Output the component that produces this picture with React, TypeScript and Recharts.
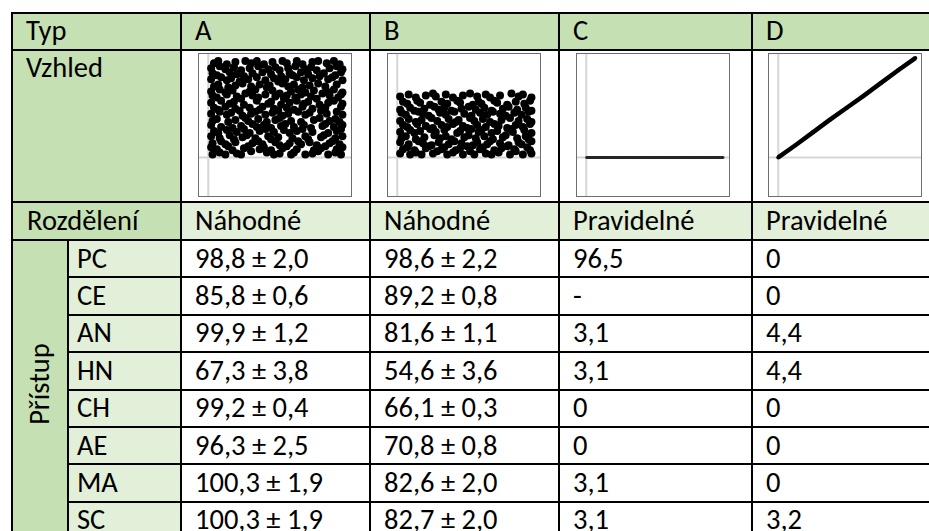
import React from 'react';
import { ScatterChart, Scatter, XAxis, YAxis, ReferenceLine } from 'recharts';

// Table text
const headerLabels = ['Typ', 'A', 'B', 'C', 'D'];
const appearanceLabel = 'Vzhled';
const distributionLabel = 'Rozdělení';
const distributions = ['Náhodné', 'Náhodné', 'Pravidelné', 'Pravidelné'];
const groupLabel = 'Přístup';
const approaches = ['PC', 'CE', 'AN', 'HN', 'CH', 'AE', 'MA', 'SC'];
const resultsA = ['98,8 ± 2,0', '85,8 ± 0,6', '99,9 ± 1,2', '67,3 ± 3,8', '99,2 ± 0,4', '96,3 ± 2,5', '100,3 ± 1,9', '100,3 ± 1,9'];
const resultsB = ['98,6 ± 2,2', '89,2 ± 0,8', '81,6 ± 1,1', '54,6 ± 3,6', '66,1 ± 0,3', '70,8 ± 0,8', '82,6 ± 2,0', '82,7 ± 2,0'];
const resultsC = ['96,5', '-', '3,1', '3,1', '0', '0', '3,1', '3,1'];
const resultsD = ['0', '0', '4,4', '4,4', '0', '0', '0', '3,2'];

// Scatter A: random points over the whole square
const pointsA: number[][] = [
  [3, 3], [8, 5], [12, 3], [20, 4], [23, 3], [30, 6], [41, 5], [46, 3], [50, 4], [58, 3], [60, 5], [68, 3], [73, 4], [77, 6], [84, 3], [89, 5], [93, 3],
  [2, 10], [6, 8], [14, 11], [17, 7], [25, 9], [28, 11], [36, 8], [39, 10], [44, 7], [52, 9], [55, 11], [62, 8], [74, 7], [79, 9], [82, 11], [90, 8], [94, 10],
  [3, 14], [9, 16], [12, 13], [19, 15], [31, 14], [35, 16], [38, 13], [47, 15], [50, 12], [57, 14], [63, 16], [65, 13], [71, 15], [76, 12], [85, 14], [87, 16], [92, 13],
  [2, 21], [8, 19], [15, 22], [18, 18], [24, 20], [27, 22], [33, 19], [42, 21], [44, 18], [49, 20], [59, 19], [68, 21], [70, 18], [79, 20], [81, 22], [89, 19], [94, 21],
  [4, 26], [7, 24], [13, 27], [20, 25], [25, 28], [29, 24], [36, 26], [40, 28], [46, 25], [53, 27], [57, 24], [62, 26], [66, 28], [73, 25], [84, 24], [90, 26], [93, 28],
  [2, 32], [9, 30], [17, 29], [23, 31], [31, 33], [34, 30], [39, 32], [44, 29], [51, 31], [54, 33], [60, 30], [67, 32], [72, 29], [80, 31], [82, 33], [88, 30], [94, 32],
  [3, 36], [6, 38], [14, 35], [19, 37], [26, 39], [28, 36], [35, 38], [41, 35], [47, 37], [50, 39], [58, 36], [65, 35], [74, 37], [78, 39], [85, 36], [89, 38], [92, 35],
  [2, 43], [8, 45], [13, 42], [16, 44], [24, 41], [30, 43], [33, 45], [40, 42], [45, 44], [52, 41], [56, 43], [63, 45], [68, 42], [71, 44], [83, 43], [90, 45], [94, 42],
  [4, 49], [7, 47], [12, 50], [19, 48], [22, 46], [29, 49], [36, 47], [38, 50], [46, 48], [49, 46], [55, 49], [60, 47], [66, 50], [73, 48], [79, 46], [82, 49], [93, 50],
  [2, 54], [9, 56], [15, 53], [18, 55], [25, 52], [34, 56], [42, 53], [44, 55], [51, 52], [57, 54], [62, 56], [67, 53], [70, 55], [78, 52], [84, 54], [88, 56], [94, 53],
  [3, 61], [6, 59], [13, 62], [20, 60], [23, 58], [31, 61], [35, 59], [40, 62], [47, 60], [53, 58], [55, 61], [61, 59], [65, 62], [72, 60], [76, 58], [85, 61], [91, 59], [93, 62],
  [2, 65], [8, 67], [12, 64], [17, 66], [26, 63], [29, 65], [33, 67], [45, 66], [50, 63], [58, 65], [63, 67], [68, 64], [74, 66], [80, 63], [83, 65], [88, 67], [94, 64],
  [4, 70], [7, 72], [14, 69], [19, 71], [24, 73], [30, 70], [36, 72], [41, 69], [43, 71], [52, 73], [56, 70], [60, 72], [66, 69], [71, 71], [77, 73], [82, 70], [90, 72],
  [2, 77], [9, 79], [13, 76], [16, 78], [22, 75], [28, 77], [34, 79], [40, 76], [46, 78], [49, 75], [54, 77], [62, 79], [67, 76], [73, 78], [84, 77], [87, 79], [94, 76],
  [3, 83], [6, 81], [15, 84], [20, 82], [25, 80], [31, 83], [38, 84], [44, 82], [51, 80], [57, 83], [59, 81], [65, 84], [70, 82], [78, 80], [81, 83], [89, 81], [93, 84],
  [2, 88], [8, 90], [12, 87], [18, 89], [23, 86], [29, 88], [35, 90], [42, 87], [47, 89], [50, 86], [56, 88], [61, 90], [68, 87], [72, 89], [76, 86], [85, 88], [90, 90], [94, 87],
  [4, 93], [7, 95], [13, 92], [19, 94], [26, 95], [30, 93], [34, 95], [39, 92], [45, 94], [52, 95], [55, 93], [62, 95], [66, 92], [73, 94], [77, 95], [83, 93], [88, 95], [92, 92],
];

// Scatter B: random points over a lower band
const pointsB: number[][] = [
  [2, 4], [9, 3], [13, 5], [17, 3], [25, 4], [28, 6], [35, 3], [39, 5], [46, 3], [51, 6], [54, 3], [62, 4], [66, 3], [71, 5], [79, 3], [83, 6], [88, 3], [94, 4],
  [4, 8], [7, 10], [12, 7], [20, 9], [22, 11], [31, 8], [33, 10], [41, 7], [44, 9], [49, 11], [58, 8], [60, 10], [68, 7], [73, 9], [77, 11], [82, 8], [91, 10], [93, 7],
  [2, 15], [8, 13], [15, 16], [18, 14], [24, 12], [29, 15], [36, 13], [40, 16], [45, 14], [53, 12], [56, 15], [63, 13], [65, 16], [72, 14], [78, 12], [85, 15], [87, 13], [94, 16],
  [3, 19], [6, 21], [13, 18], [19, 20], [26, 22], [30, 19], [34, 21], [38, 18], [47, 20], [50, 22], [55, 19], [61, 21], [67, 18], [74, 20], [76, 22], [84, 19], [90, 21], [92, 18],
  [2, 25], [9, 27], [12, 24], [16, 26], [23, 28], [27, 25], [33, 27], [42, 24], [44, 26], [52, 28], [57, 25], [59, 27], [66, 24], [70, 26], [80, 28], [81, 25], [89, 27], [94, 24],
  [4, 32], [7, 30], [14, 33], [20, 31], [25, 29], [31, 32], [35, 30], [39, 33], [46, 31], [49, 29], [56, 32], [62, 30], [68, 33], [71, 31], [77, 29], [83, 32], [88, 30], [93, 33],
  [2, 36], [8, 38], [13, 35], [17, 37], [24, 39], [28, 36], [36, 38], [41, 35], [43, 37], [51, 39], [54, 36], [60, 38], [65, 35], [73, 37], [79, 39], [85, 36], [91, 38], [94, 35],
  [3, 44], [6, 42], [15, 45], [18, 43], [22, 41], [30, 44], [34, 42], [40, 45], [47, 43], [52, 41], [58, 44], [63, 42], [67, 45], [72, 43], [76, 41], [82, 44], [87, 42], [92, 45],
  [2, 47], [9, 49], [12, 46], [19, 48], [26, 50], [29, 47], [33, 49], [38, 46], [45, 48], [50, 50], [55, 47], [61, 49], [66, 46], [74, 48], [78, 50], [84, 47], [90, 49], [94, 46],
  [4, 55], [7, 53], [14, 56], [16, 54], [23, 52], [31, 55], [35, 53], [42, 56], [44, 54], [53, 52], [57, 55], [59, 53], [68, 56], [70, 54], [77, 52], [83, 55], [89, 53], [93, 56],
  [2, 60], [8, 62], [13, 59], [20, 61], [25, 63], [27, 60], [34, 62], [39, 59], [46, 61], [51, 63], [56, 60], [62, 62], [65, 59], [72, 61], [80, 63], [85, 60], [88, 62], [94, 59],
];

// C and D: regular points
const pointsC: number[][] = [[0, 0], [12, 0], [24, 0], [36, 0], [48, 0], [60, 0], [72, 0], [84, 0], [96, 0]];
const pointsD: number[][] = [[0, 0], [12, 12], [24, 24.5], [36, 37], [48, 49], [60, 61], [72, 73.5], [84, 86], [96, 98]];

const COL = [12, 181, 370, 559, 752, 941];
const SUB = 68;
const ROW_TOP = [13, 50, 202, 240];
const ROW_H = 37.4;
const FONT = 'Carlito, Calibri, Lato, sans-serif';
const FONT_SIZE = 28.5;
const DARK = '#c5e0b3';
const LIGHT = '#e2efd9';

type CellProps = {
  x0: number; x1: number; y0: number; y1: number;
  bg?: string; pad?: number; top?: boolean; children?: React.ReactNode;
};

const Cell = ({ x0, x1, y0, y1, bg = '#fff', pad = 13, top, children }: CellProps) => (
  <div style={{
    position: 'absolute', left: x0 - 1, top: y0 - 1, width: x1 - x0 + 2, height: y1 - y0 + 2,
    boxSizing: 'border-box', border: '2px solid #000', background: bg,
    display: 'flex', alignItems: top ? 'flex-start' : 'center', paddingLeft: pad,
    fontFamily: FONT, fontSize: FONT_SIZE, lineHeight: 1.2, color: '#000', whiteSpace: 'nowrap',
  }}>{children}</div>
);

const MiniPlot = ({ left, points, kind }: { left: number; points: number[][]; kind: 'dots' | 'line' | 'thin' }) => {
  const data = points.map(([x, y]) => ({ x, y }));
  return (
    <div style={{ position: 'absolute', left, top: 53, width: 154, height: 144, border: '1px solid #6e6e6e', boxSizing: 'border-box', background: '#fff' }}>
      <ScatterChart width={152} height={142} margin={{ top: 0, right: 0, bottom: 0, left: 0 }}>
        <XAxis type="number" dataKey="x" domain={[-6.5, 100]} hide allowDataOverflow />
        <YAxis type="number" dataKey="y" domain={[-38, 102]} hide allowDataOverflow />
        <ReferenceLine x={0} stroke="#d6d6d6" strokeWidth={2} />
        <ReferenceLine y={0} stroke="#d6d6d6" strokeWidth={2} />
        {kind === 'dots' && (
          <Scatter data={data} isAnimationActive={false}
            shape={(p: any) => <circle cx={p.cx} cy={p.cy} r={4} fill="#000" />} />
        )}
        {kind === 'thin' && (
          <Scatter data={data} isAnimationActive={false} line={{ stroke: '#262626', strokeWidth: 3 }}
            shape={(p: any) => <circle cx={p.cx} cy={p.cy} r={1.2} fill="#262626" />} />
        )}
        {kind === 'line' && (
          <Scatter data={data} isAnimationActive={false} line={{ stroke: '#000', strokeWidth: 4.5 }}
            shape={(p: any) => <circle cx={p.cx} cy={p.cy} r={2} fill="#000" />} />
        )}
      </ScatterChart>
    </div>
  );
};

export default function App() {
  const results = [resultsA, resultsB, resultsC, resultsD];
  const dataTop = ROW_TOP[3];
  const rowY = (i: number) => dataTop + i * ROW_H;
  const bottom = rowY(approaches.length);

  return (
    <div style={{ position: 'absolute', left: 0, top: 0, width: 929, height: 531, overflow: 'hidden', background: '#fff' }}>
      {/* header row */}
      {headerLabels.map((t, i) => (
        <Cell key={t} x0={COL[i]} x1={COL[i + 1]} y0={ROW_TOP[0]} y1={ROW_TOP[1]} bg={DARK}>{t}</Cell>
      ))}

      {/* appearance row */}
      <Cell x0={COL[0]} x1={COL[1]} y0={ROW_TOP[1]} y1={ROW_TOP[2]} bg={DARK} top>
        <span>{appearanceLabel}</span>
      </Cell>
      {[0, 1, 2, 3].map((i) => (
        <Cell key={'v' + i} x0={COL[i + 1]} x1={COL[i + 2]} y0={ROW_TOP[1]} y1={ROW_TOP[2]} />
      ))}
      <MiniPlot left={COL[1] + 17} points={pointsA} kind="dots" />
      <MiniPlot left={COL[2] + 17} points={pointsB} kind="dots" />
      <MiniPlot left={COL[3] + 17} points={pointsC} kind="thin" />
      <MiniPlot left={COL[4] + 16} points={pointsD} kind="line" />

      {/* distribution row */}
      <Cell x0={COL[0]} x1={COL[1]} y0={ROW_TOP[2]} y1={ROW_TOP[3]} bg={DARK} pad={14}>{distributionLabel}</Cell>
      {distributions.map((t, i) => (
        <Cell key={'d' + i} x0={COL[i + 1]} x1={COL[i + 2]} y0={ROW_TOP[2]} y1={ROW_TOP[3]} bg={LIGHT}>{t}</Cell>
      ))}

      {/* group label */}
      <Cell x0={COL[0]} x1={SUB} y0={dataTop} y1={bottom} bg={DARK} pad={0}>
        <div style={{ width: '100%', display: 'flex', justifyContent: 'center', marginTop: -12 }}>
          <span style={{ display: 'inline-block', transform: 'rotate(-90deg)' }}>{groupLabel}</span>
        </div>
      </Cell>

      {/* data rows */}
      {approaches.map((a, r) => (
        <React.Fragment key={a}>
          <Cell x0={SUB} x1={COL[1]} y0={rowY(r)} y1={rowY(r + 1)} bg={LIGHT} pad={8}>{a}</Cell>
          {results.map((col, c) => (
            <Cell key={c} x0={COL[c + 1]} x1={COL[c + 2]} y0={rowY(r)} y1={rowY(r + 1)}>{col[r]}</Cell>
          ))}
        </React.Fragment>
      ))}
    </div>
  );
}
